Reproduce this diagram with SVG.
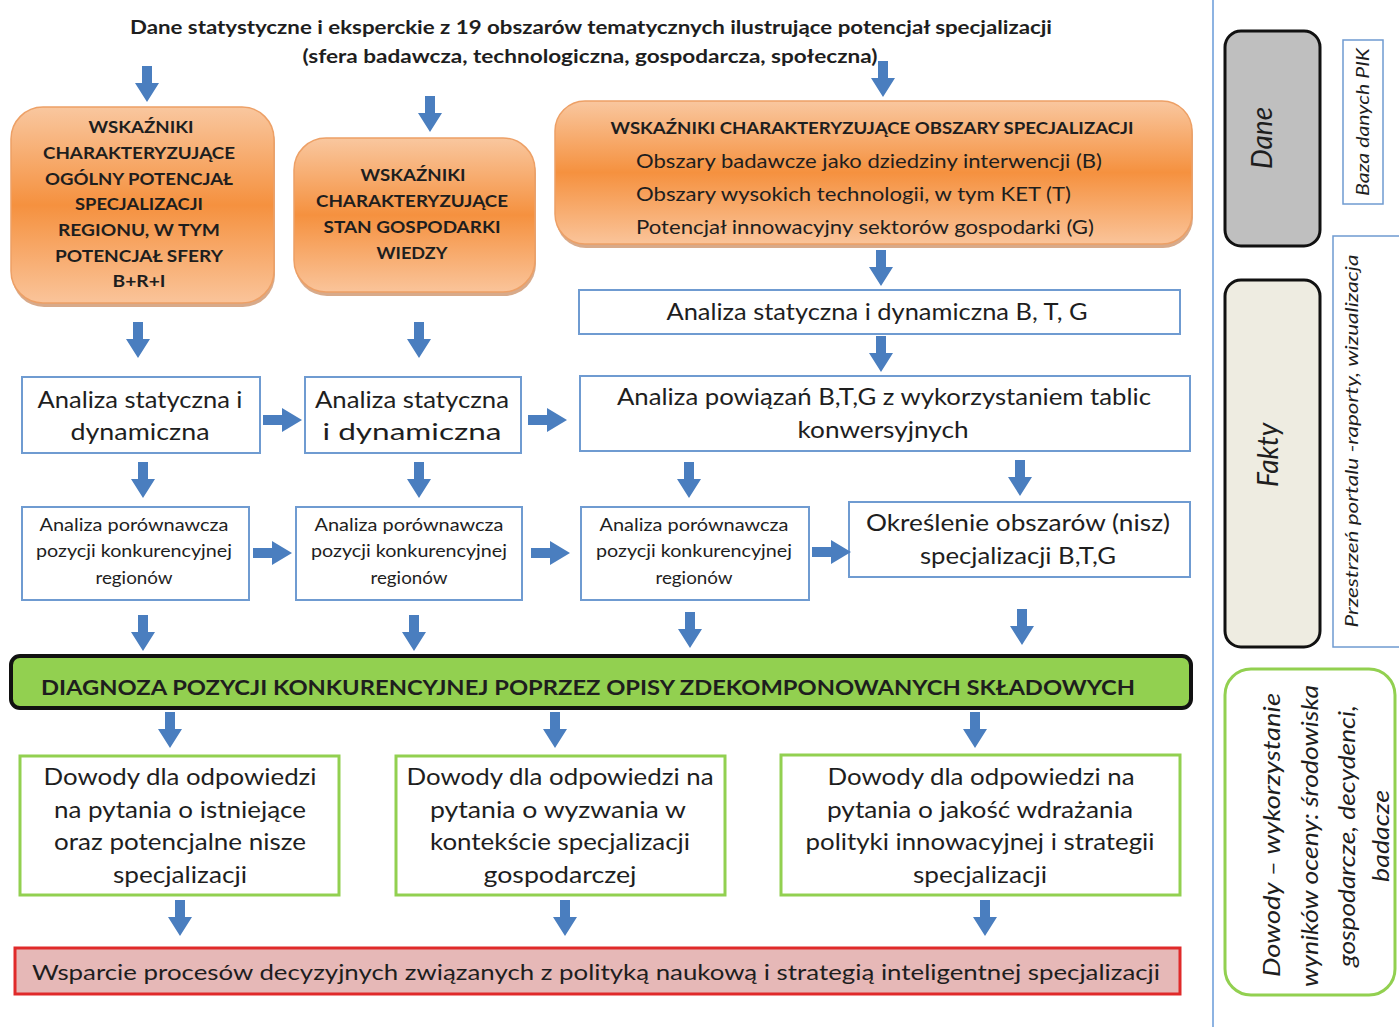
<svg xmlns="http://www.w3.org/2000/svg" width="1399" height="1027" viewBox="0 0 1399 1027">
<defs>
<linearGradient id="og" x1="0" y1="0" x2="0" y2="1">
<stop offset="0" stop-color="#f9c79f"/>
<stop offset="0.5" stop-color="#f5913f"/>
<stop offset="1" stop-color="#fac49a"/>
</linearGradient>
<path id="ad" d="M-5,0 H5 V17 H12 L0,36 L-12,17 H-5 Z" fill="#4a7ebf"/>
<path id="ar" d="M0,-5 H19 V-12 L39,0 L19,12 V5 H0 Z" fill="#4a7ebf"/>
<style>
text{font-family:Lato,"Open Sans","Liberation Sans",sans-serif;fill:#1e1e1e}
.b{font-weight:bold}
.c{text-anchor:middle}
.n{font-family:"Liberation Sans",Arial,sans-serif}
.i{font-style:italic}
.bx{fill:#fff;stroke:#6f9bd1;stroke-width:2}
.gb{fill:#fff;stroke:#92d050;stroke-width:3}
.or{fill:url(#og);stroke:#eda066;stroke-width:1.5}
.sh{fill:#b8652a;opacity:0.55}
</style>
</defs>
<rect width="1399" height="1027" fill="#fff"/>

<g id="title">
<text class="b c" x="591" y="34" font-size="19" textLength="922" lengthAdjust="spacingAndGlyphs">Dane statystyczne i eksperckie z 19 obszarów tematycznych ilustrujące potencjał specjalizacji</text>
<text class="b c" x="590" y="63" font-size="19" textLength="575" lengthAdjust="spacingAndGlyphs">(sfera badawcza, technologiczna, gospodarcza, społeczna)</text>
</g>

<g id="orange1">
<rect class="sh" x="12" y="111" width="263" height="196" rx="32"/>
<rect class="or" x="11" y="107" width="263" height="196" rx="32"/>
<g class="b c" font-size="17">
<text x="141" y="133" textLength="105" lengthAdjust="spacingAndGlyphs">WSKAŹNIKI</text>
<text x="139" y="159" textLength="192" lengthAdjust="spacingAndGlyphs">CHARAKTERYZUJĄCE</text>
<text x="139" y="185" textLength="188" lengthAdjust="spacingAndGlyphs">OGÓLNY POTENCJAŁ</text>
<text x="139" y="210" textLength="128" lengthAdjust="spacingAndGlyphs">SPECJALIZACJI</text>
<text x="139" y="236" textLength="162" lengthAdjust="spacingAndGlyphs">REGIONU, W TYM</text>
<text x="139" y="262" textLength="168" lengthAdjust="spacingAndGlyphs">POTENCJAŁ  SFERY</text>
<text x="139" y="287" textLength="53" lengthAdjust="spacingAndGlyphs">B+R+I</text>
</g>
</g>

<g id="orange2">
<rect class="sh" x="295" y="142" width="241" height="154" rx="32"/>
<rect class="or" x="294" y="138" width="241" height="154" rx="32"/>
<g class="b c" font-size="17">
<text x="413" y="181" textLength="105" lengthAdjust="spacingAndGlyphs">WSKAŹNIKI</text>
<text x="412" y="207" textLength="192" lengthAdjust="spacingAndGlyphs">CHARAKTERYZUJĄCE</text>
<text x="412" y="233" textLength="177" lengthAdjust="spacingAndGlyphs">STAN GOSPODARKI</text>
<text x="412" y="259" textLength="71" lengthAdjust="spacingAndGlyphs">WIEDZY</text>
</g>
</g>

<g id="orange3">
<rect class="sh" x="556" y="105" width="637" height="143" rx="30"/>
<rect class="or" x="555" y="101" width="637" height="143" rx="30"/>
<text class="b c" x="872" y="134" font-size="17" textLength="523" lengthAdjust="spacingAndGlyphs">WSKAŹNIKI CHARAKTERYZUJĄCE OBSZARY SPECJALIZACJI</text>
<text x="636" y="168" font-size="19" textLength="466" lengthAdjust="spacingAndGlyphs">Obszary badawcze jako dziedziny interwencji (B)</text>
<text x="636" y="201" font-size="19" textLength="435" lengthAdjust="spacingAndGlyphs">Obszary wysokich technologii, w tym KET  (T)</text>
<text x="636" y="234" font-size="19" textLength="458" lengthAdjust="spacingAndGlyphs">Potencjał innowacyjny sektorów gospodarki (G)</text>
</g>

<g id="btg">
<rect class="bx" x="579" y="290" width="601" height="44"/>
<text class="c" x="877" y="320" font-size="23" textLength="421" lengthAdjust="spacingAndGlyphs">Analiza statyczna i dynamiczna B, T, G</text>
</g>

<g id="powiazan">
<rect class="bx" x="580" y="376" width="610" height="75"/>
<text class="c" x="884" y="405" font-size="23" textLength="534" lengthAdjust="spacingAndGlyphs">Analiza powiązań B,T,G z wykorzystaniem tablic</text>
<text class="c" x="883" y="438" font-size="23" textLength="171" lengthAdjust="spacingAndGlyphs">konwersyjnych</text>
</g>

<g id="stat1">
<rect class="bx" x="22" y="377" width="238" height="76"/>
<text class="c" x="140" y="408" font-size="24" textLength="205" lengthAdjust="spacingAndGlyphs">Analiza statyczna i</text>
<text class="c" x="140" y="440" font-size="24" textLength="139" lengthAdjust="spacingAndGlyphs">dynamiczna</text>
</g>

<g id="stat2">
<rect class="bx" x="305" y="377" width="216" height="76"/>
<text class="c" x="412" y="408" font-size="24" textLength="194" lengthAdjust="spacingAndGlyphs">Analiza statyczna</text>
<text class="c" x="412" y="440" font-size="24" textLength="179" lengthAdjust="spacingAndGlyphs">i dynamiczna</text>
</g>

<g id="por1">
<rect class="bx" x="22" y="507" width="227" height="93"/>
<g class="n c" font-size="17">
<text x="134" y="531" textLength="189" lengthAdjust="spacingAndGlyphs">Analiza porównawcza</text>
<text x="134" y="557" textLength="196" lengthAdjust="spacingAndGlyphs">pozycji konkurencyjnej</text>
<text x="134" y="584" textLength="77" lengthAdjust="spacingAndGlyphs">regionów</text>
</g>
</g>

<g id="por2">
<rect class="bx" x="296" y="507" width="226" height="93"/>
<g class="n c" font-size="17">
<text x="409" y="531" textLength="189" lengthAdjust="spacingAndGlyphs">Analiza porównawcza</text>
<text x="409" y="557" textLength="196" lengthAdjust="spacingAndGlyphs">pozycji konkurencyjnej</text>
<text x="409" y="584" textLength="77" lengthAdjust="spacingAndGlyphs">regionów</text>
</g>
</g>

<g id="por3">
<rect class="bx" x="581" y="507" width="228" height="93"/>
<g class="n c" font-size="17">
<text x="694" y="531" textLength="189" lengthAdjust="spacingAndGlyphs">Analiza porównawcza</text>
<text x="694" y="557" textLength="196" lengthAdjust="spacingAndGlyphs">pozycji konkurencyjnej</text>
<text x="694" y="584" textLength="77" lengthAdjust="spacingAndGlyphs">regionów</text>
</g>
</g>

<g id="nisze">
<rect class="bx" x="849" y="502" width="341" height="75"/>
<text class="c" x="1018" y="531" font-size="23" textLength="304" lengthAdjust="spacingAndGlyphs">Określenie obszarów (nisz)</text>
<text class="c" x="1018" y="564" font-size="23" textLength="196" lengthAdjust="spacingAndGlyphs">specjalizacji B,T,G</text>
</g>

<g id="diagnoza">
<rect x="11" y="656" width="1180" height="52" rx="9" fill="#92d050" stroke="#111" stroke-width="4"/>
<text class="b c" x="588" y="695" font-size="21" textLength="1094" lengthAdjust="spacingAndGlyphs">DIAGNOZA  POZYCJI KONKURENCYJNEJ POPRZEZ OPISY ZDEKOMPONOWANYCH SKŁADOWYCH</text>
</g>

<g id="dowody1">
<rect class="gb" x="20" y="756" width="319" height="139"/>
<g class="c" font-size="24">
<text x="180" y="785" textLength="273" lengthAdjust="spacingAndGlyphs">Dowody dla odpowiedzi</text>
<text x="180" y="818" textLength="252" lengthAdjust="spacingAndGlyphs">na pytania o istniejące</text>
<text x="180" y="850" textLength="252" lengthAdjust="spacingAndGlyphs">oraz potencjalne nisze</text>
<text x="180" y="883" textLength="134" lengthAdjust="spacingAndGlyphs">specjalizacji</text>
</g>
</g>

<g id="dowody2">
<rect class="gb" x="396" y="756" width="329" height="139"/>
<g class="c" font-size="24">
<text x="560" y="785" textLength="307" lengthAdjust="spacingAndGlyphs">Dowody dla odpowiedzi na</text>
<text x="558" y="818" textLength="256" lengthAdjust="spacingAndGlyphs">pytania o wyzwania w</text>
<text x="560" y="850" textLength="260" lengthAdjust="spacingAndGlyphs">kontekście specjalizacji</text>
<text x="560" y="883" textLength="153" lengthAdjust="spacingAndGlyphs">gospodarczej</text>
</g>
</g>

<g id="dowody3">
<rect class="gb" x="781" y="755" width="399" height="140"/>
<g class="c" font-size="24">
<text x="981" y="785" textLength="307" lengthAdjust="spacingAndGlyphs">Dowody dla odpowiedzi na</text>
<text x="980" y="818" textLength="306" lengthAdjust="spacingAndGlyphs">pytania o jakość wdrażania</text>
<text x="980" y="850" textLength="349" lengthAdjust="spacingAndGlyphs">polityki innowacyjnej i strategii</text>
<text x="980" y="883" textLength="134" lengthAdjust="spacingAndGlyphs">specjalizacji</text>
</g>
</g>

<g id="wsparcie">
<rect x="15" y="948" width="1165" height="46" fill="#e6b8b7" stroke="#e02a2a" stroke-width="3"/>
<text class="c" x="596" y="980" font-size="22" textLength="1128" lengthAdjust="spacingAndGlyphs">Wsparcie procesów decyzyjnych związanych z polityką naukową i strategią inteligentnej  specjalizacji</text>
</g>

<g id="side">
<line x1="1213" y1="0" x2="1213" y2="1027" stroke="#8db3e2" stroke-width="2"/>
</g>

<g id="dane">
<rect x="1225" y="31" width="95" height="215" rx="16" fill="#bfbfbf" stroke="#111" stroke-width="3"/>
<text class="i c" transform="translate(1272,138) rotate(-90)" font-size="28">Dane</text>
</g>

<g id="fakty">
<rect x="1225" y="280" width="95" height="367" rx="16" fill="#eeece1" stroke="#111" stroke-width="3"/>
<text class="i c" transform="translate(1278,455) rotate(-90)" font-size="28">Fakty</text>
</g>

<g id="baza">
<rect x="1343" y="40" width="40" height="164" fill="#fff" stroke="#6f9bd1" stroke-width="1.5"/>
<text class="i c" transform="translate(1369,122) rotate(-90)" font-size="17" textLength="148" lengthAdjust="spacingAndGlyphs">Baza danych PIK</text>
</g>

<g id="portal">
<rect x="1333" y="236" width="70" height="411" fill="#fff" stroke="#6f9bd1" stroke-width="1.5"/>
<text class="i c" transform="translate(1358,441) rotate(-90)" font-size="18" textLength="373" lengthAdjust="spacingAndGlyphs">Przestrzeń  portalu -raporty, wizualizacja</text>
</g>

<g id="dowodySide">
<rect x="1225" y="669" width="170" height="326" rx="26" fill="#fff" stroke="#92d050" stroke-width="3"/>
<text class="i c" transform="translate(1280,835) rotate(-90)" font-size="23" textLength="284" lengthAdjust="spacingAndGlyphs">Dowody – wykorzystanie</text>
<text class="i c" transform="translate(1318,836) rotate(-90)" font-size="23" textLength="302" lengthAdjust="spacingAndGlyphs">wyników oceny: środowiska</text>
<text class="i c" transform="translate(1355,836) rotate(-90)" font-size="23" textLength="262" lengthAdjust="spacingAndGlyphs">gospodarcze, decydenci,</text>
<text class="i c" transform="translate(1389,836) rotate(-90)" font-size="23" textLength="92" lengthAdjust="spacingAndGlyphs">badacze</text>
</g>

<g id="connectors">
<use href="#ad" x="147" y="66"/>
<use href="#ad" x="430" y="96"/>
<use href="#ad" x="883" y="61"/>
<use href="#ad" x="881" y="250"/>
<use href="#ad" x="881" y="336"/>
<use href="#ad" x="138" y="322"/>
<use href="#ad" x="419" y="322"/>
<use href="#ar" x="263" y="420"/>
<use href="#ar" x="528" y="420"/>
<use href="#ad" x="143" y="462"/>
<use href="#ad" x="419" y="462"/>
<use href="#ad" x="689" y="462"/>
<use href="#ad" x="1020" y="460"/>
<use href="#ar" x="253" y="553"/>
<use href="#ar" x="531" y="553"/>
<use href="#ar" x="812" y="552"/>
<use href="#ad" x="143" y="615"/>
<use href="#ad" x="414" y="615"/>
<use href="#ad" x="690" y="612"/>
<use href="#ad" x="1022" y="609"/>
<use href="#ad" x="170" y="712"/>
<use href="#ad" x="555" y="712"/>
<use href="#ad" x="975" y="712"/>
<use href="#ad" x="180" y="900"/>
<use href="#ad" x="565" y="900"/>
<use href="#ad" x="985" y="900"/>
</g>
</svg>
